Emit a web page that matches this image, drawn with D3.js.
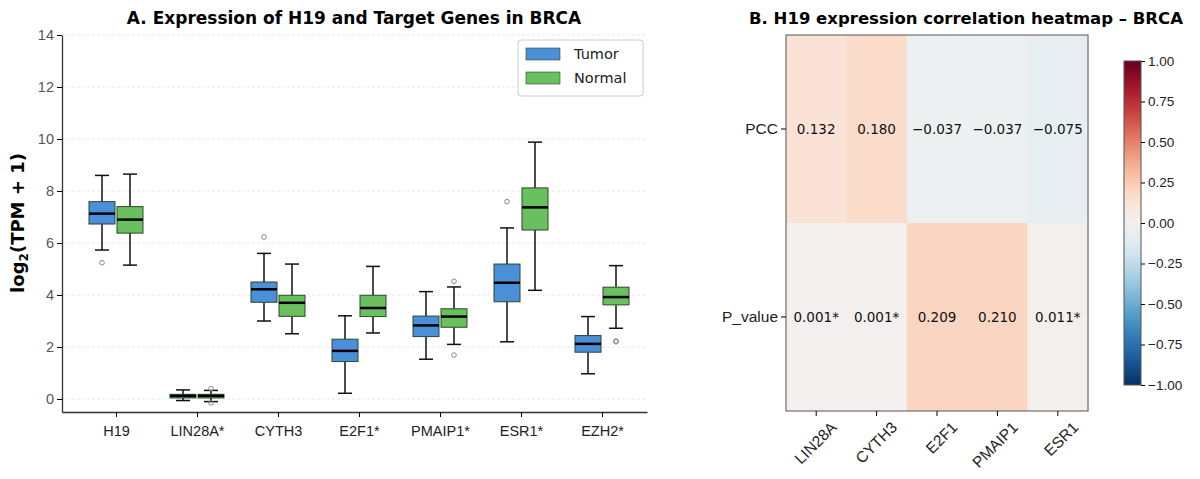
<!DOCTYPE html><html><head><meta charset="utf-8"><script src="https://cdn.jsdelivr.net/npm/d3@7"></script>
<style>body{margin:0;background:#fff;font-family:"DejaVu Sans",sans-serif}</style></head><body><svg id="c" width="1200" height="479"></svg>
<script>
const genes=["H19","LIN28A*","CYTH3","E2F1*","PMAIP1*","ESR1*","EZH2*"];
// [lowWhisker,q1,median,q3,highWhisker]
const tumorStats=[[5.73,6.73,7.13,7.59,8.6],[-0.06,0.04,0.12,0.18,0.35],[3.0,3.72,4.22,4.5,5.6],[0.22,1.44,1.85,2.3,3.2],[1.53,2.4,2.83,3.19,4.13],[2.2,3.74,4.47,5.19,6.58],[0.97,1.8,2.12,2.44,3.17]];
const normalStats=[[5.15,6.38,6.9,7.4,8.65],[-0.1,0.04,0.12,0.18,0.33],[2.51,3.18,3.7,3.99,5.19],[2.54,3.17,3.5,3.99,5.1],[2.1,2.76,3.17,3.47,4.31],[4.18,6.5,7.37,8.12,9.88],[2.72,3.62,3.92,4.3,5.13]];
const tumorOut=[[5.24],[],[6.23],[],[],[7.59],[]];
const normalOut=[[],[0.4,-0.15],[],[],[4.53,1.69],[],[2.23,2.2]];
const yTicks=[0,2,4,6,8,10,12,14];
const hmCols=["LIN28A","CYTH3","E2F1","PMAIP1","ESR1"];
const hmRows=["PCC","P_value"];
const pcc=[0.132,0.180,-0.037,-0.037,-0.075];
const pval=[0.001,0.001,0.209,0.210,0.011];
const pvalLabels=["0.001*","0.001*","0.209","0.210","0.011*"];
const cbTicks=[1,0.75,0.5,0.25,0,-0.25,-0.5,-0.75,-1];

const svg=d3.select("#c");
const L=62,R=647,T=35,B=412;
const x=d3.scaleLinear().domain([-54/81,(R-L-54)/81]).range([L,R]);
const y=d3.scaleLinear().domain([-0.5,14]).range([B,T]);
const g=svg.append("g");
yTicks.forEach(t=>g.append("line").attr("x1",L).attr("x2",R).attr("y1",y(t)).attr("y2",y(t)).attr("stroke","#e6e6e6").attr("stroke-dasharray","3,2"));
const ya=g.append("g").attr("transform",`translate(${L},0)`).call(d3.axisLeft(y).tickValues(yTicks).tickSize(5).tickSizeOuter(0));
const xa=g.append("g").attr("transform",`translate(0,${B})`).call(d3.axisBottom(x).tickValues(d3.range(7)).tickFormat(i=>genes[i]).tickSize(5).tickSizeOuter(0));
[ya,xa].forEach(a=>{a.selectAll("text").attr("font-size",14.5).attr("fill","#222");a.select(".domain").attr("stroke","#333").attr("stroke-width",1.3);});
ya.selectAll("text").attr("fill","#555");
xa.selectAll("text").attr("dy","1.1em");
function box(st,outs,i,off,col){const cx=x(i)+off,w=26;
 g.append("line").attr("x1",cx).attr("x2",cx).attr("y1",y(st[0])).attr("y2",y(st[1])).attr("stroke","#111").attr("stroke-width",1.5);
 g.append("line").attr("x1",cx).attr("x2",cx).attr("y1",y(st[3])).attr("y2",y(st[4])).attr("stroke","#111").attr("stroke-width",1.5);
 [st[0],st[4]].forEach(v=>g.append("line").attr("x1",cx-7).attr("x2",cx+7).attr("y1",y(v)).attr("y2",y(v)).attr("stroke","#111").attr("stroke-width",1.5));
 g.append("rect").attr("x",cx-w/2).attr("width",w).attr("y",y(st[3])).attr("height",Math.max(1,y(st[1])-y(st[3]))).attr("fill",col).attr("stroke","#2a4a2a").attr("stroke-width",1);
 g.append("line").attr("x1",cx-w/2).attr("x2",cx+w/2).attr("y1",y(st[2])).attr("y2",y(st[2])).attr("stroke","#000").attr("stroke-width",2.5);
 outs.forEach(v=>g.append("circle").attr("cx",cx).attr("cy",y(v)).attr("r",2.3).attr("fill","none").attr("stroke","#888"));}
genes.forEach((d,i)=>{box(tumorStats[i],tumorOut[i],i,-14,"#4a8fd8");box(normalStats[i],normalOut[i],i,14,"#6abf5f");});
svg.append("text").attr("x",354).attr("y",24).attr("text-anchor","middle").attr("font-size",17).attr("font-weight","bold").text("A. Expression of H19 and Target Genes in BRCA");
svg.append("text").attr("transform","translate(24,223) rotate(-90)").attr("text-anchor","middle").attr("font-size",18).attr("font-weight","bold").html('log<tspan font-size="12" dy="4">2</tspan><tspan dy="-4">(TPM + 1)</tspan>');
const lg=svg.append("g");
lg.append("rect").attr("x",518).attr("y",40).attr("width",125).attr("height",56).attr("rx",3).attr("fill","#fff").attr("stroke","#ccc");
[["Tumor","#4a8fd8"],["Normal","#6abf5f"]].forEach((d,k)=>{lg.append("rect").attr("x",526).attr("y",48+k*24).attr("width",34).attr("height",12).attr("fill",d[1]).attr("stroke","#2a4a2a").attr("stroke-width",0.6);
 lg.append("text").attr("x",574).attr("y",59+k*24).attr("font-size",14.5).attr("fill","#222").text(d[0]);});

// heatmap
const hx=d3.scaleBand().domain(hmCols).range([786,1088]);
const hy=d3.scaleBand().domain(hmRows).range([35,411]);
const col=v=>d3.interpolateRdBu((1-v)/2);
const h=svg.append("g");
hmCols.forEach((c,i)=>{
 [[pcc[i],pcc[i].toFixed(3).replace("-","\u2212")],[pval[i],pvalLabels[i]]].forEach((d,r)=>{
  h.append("rect").attr("x",hx(c)).attr("y",hy(hmRows[r])).attr("width",hx.bandwidth()+0.5).attr("height",hy.bandwidth()).attr("fill",col(d[0]));
  h.append("text").attr("x",hx(c)+hx.bandwidth()/2).attr("y",hy(hmRows[r])+hy.bandwidth()/2+5).attr("text-anchor","middle").attr("font-size",13.5).attr("fill","#111").text(d[1]);});});
h.append("rect").attr("x",786).attr("y",35).attr("width",302).attr("height",376).attr("fill","none").attr("stroke","#555");
const hya=h.append("g").attr("transform","translate(786,0)").call(d3.axisLeft(hy).tickSize(5));
const hxa=h.append("g").attr("transform","translate(0,411)").call(d3.axisBottom(hx).tickSize(5));
[hya,hxa].forEach(a=>{a.select(".domain").remove();a.selectAll("text").attr("font-size",15.5).attr("fill","#222");});
hxa.selectAll("text").attr("text-anchor","end").attr("transform","translate(8,4) rotate(-45)");
svg.append("text").attr("x",966).attr("y",24).attr("text-anchor","middle").attr("font-size",16.5).attr("font-weight","bold").text("B. H19 expression correlation heatmap \u2013 BRCA");
// colorbar
const cy=d3.scaleLinear().domain([-1,1]).range([385,61]);
const defs=svg.append("defs");const gr=defs.append("linearGradient").attr("id","cb").attr("x1",0).attr("x2",0).attr("y1",1).attr("y2",0);
d3.range(0,1.001,0.05).forEach(t=>gr.append("stop").attr("offset",t).attr("stop-color",col(t*2-1)));
svg.append("rect").attr("x",1124).attr("y",61).attr("width",17).attr("height",324).attr("fill","url(#cb)").attr("stroke","#555");
const ca=svg.append("g").attr("transform","translate(1141,0)").call(d3.axisRight(cy).tickValues(cbTicks).tickSize(4).tickFormat(v=>d3.format(".2f")(v).replace("-","\u2212")));
ca.select(".domain").remove();ca.selectAll("text").attr("font-size",13.5).attr("fill","#222");
</script></body></html>
